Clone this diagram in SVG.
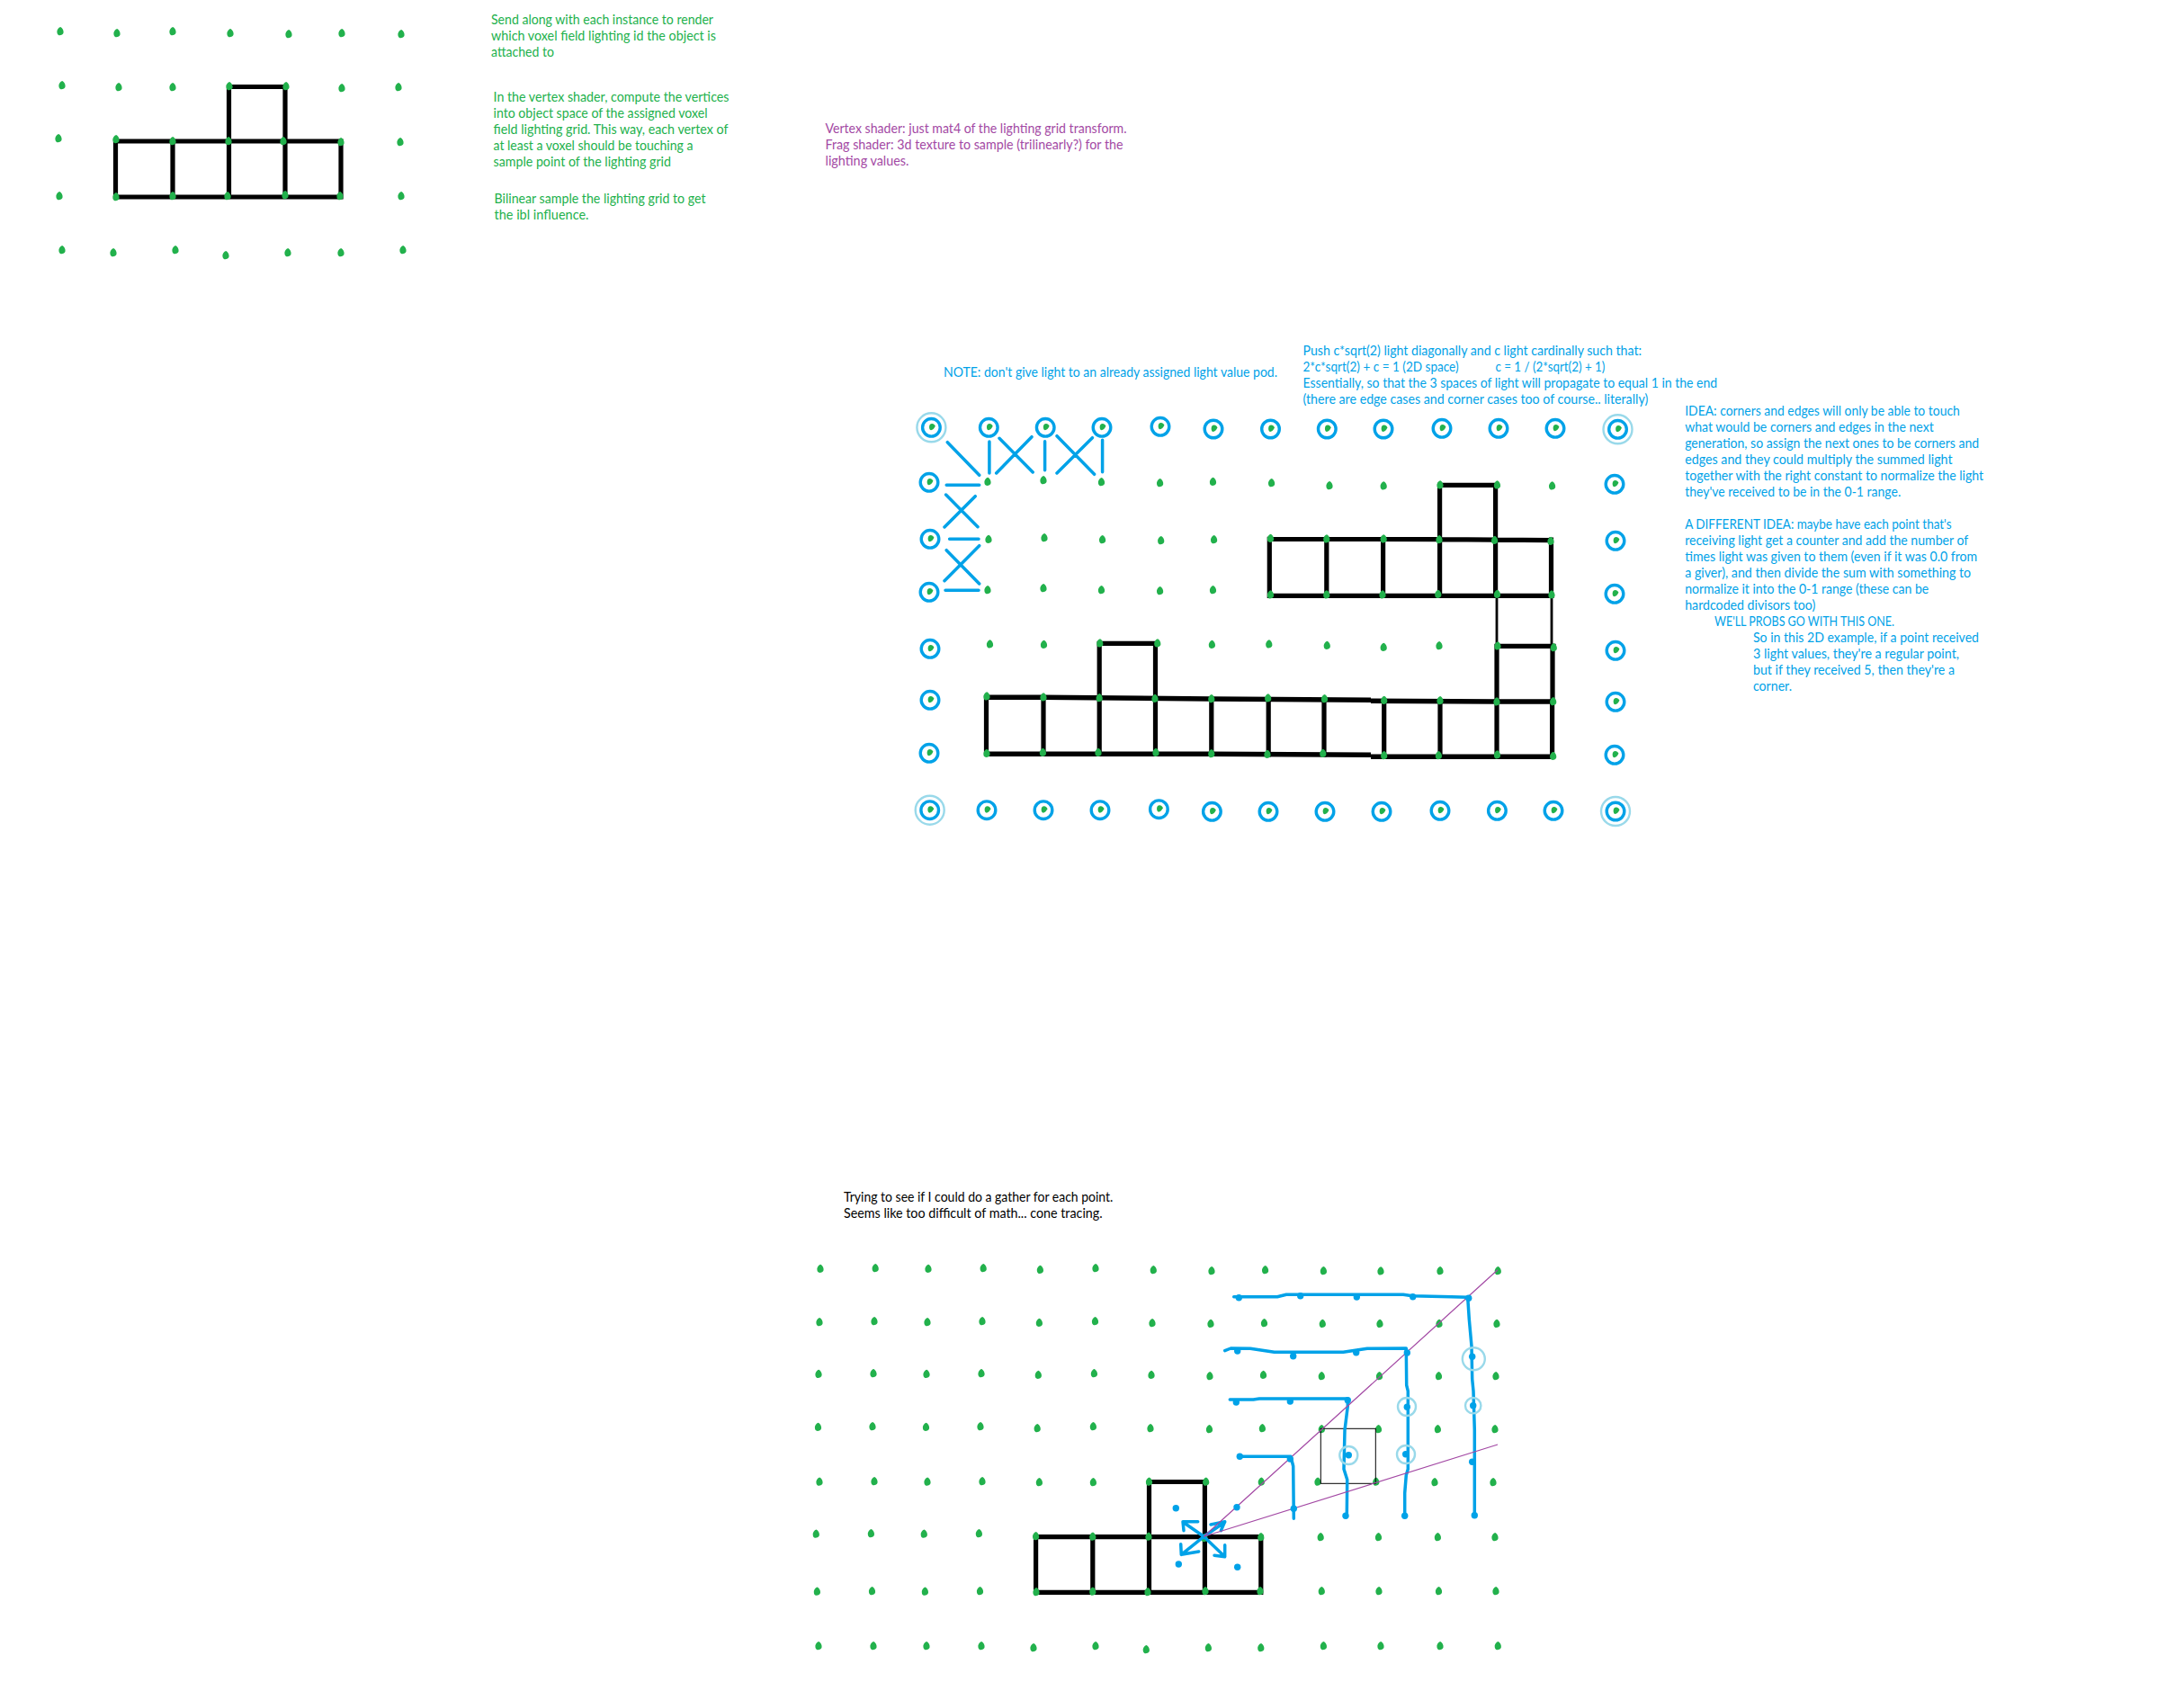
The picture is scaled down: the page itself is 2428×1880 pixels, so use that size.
<svg xmlns="http://www.w3.org/2000/svg" xmlns:xlink="http://www.w3.org/1999/xlink" width="2428" height="1880" viewBox="0 0 2428 1880">
<style>
text{font-family:Lato,"Open Sans","Liberation Sans",sans-serif;font-size:14.67px}
.gt{fill:#22b14c}.bt{fill:#00a2e8}.pt{fill:#a349a4}.kt{fill:#000}
.k{fill:none;stroke:#000;stroke-width:5.2;stroke-linecap:square}
.kh{fill:none;stroke:#000;stroke-width:5.4;stroke-linecap:butt}
.kn{fill:none;stroke:#000;stroke-width:2.8}
.bl{fill:none;stroke:#00a2e8;stroke-width:3.5;stroke-linejoin:round;stroke-linecap:round}
.lc{fill:none;stroke:#99d9ea;stroke-width:2.4}
.pl{fill:none;stroke:#a349a4;stroke-width:1.2}
.gd{fill:#22b14c}.bd{fill:#00a2e8}
</style>
<defs>
<path id="d" class="gd" d="M-3.6 .3C-3.6-2.2-1.2-5 .3-5C2.2-3.9 3.9-1.6 3.6 1.2C3.4 3.7-.6 4.8-2 3.9C-3.1 3.2-3.6 1.9-3.6 .3Z"/>
<circle id="b" class="bd" r="3.7"/>
<g id="p"><circle r="9.8" fill="none" stroke="#00a2e8" stroke-width="3.4"/><path class="gd" transform="translate(.8 -.6) scale(1.05)" d="M-3 0C-3-2-2-3.6 0-3.6C1.5-3.6 3.4-2 3.4-.8C2.4 1.8 .5 3.4-1 3.4C-2.4 3.4-3 1.7-3 0Z"/></g>
<circle id="o" class="lc" r="16"/>
</defs>
<rect width="2428" height="1880" fill="#fff"/>

<g id="notes-green" class="gt">
<text class="gt" x="546" y="27" textLength="247" lengthAdjust="spacingAndGlyphs">Send along with each instance to render</text>
<text class="gt" x="546" y="45" textLength="250" lengthAdjust="spacingAndGlyphs">which voxel field lighting id the object is</text>
<text class="gt" x="546" y="63" textLength="70" lengthAdjust="spacingAndGlyphs">attached to</text>
<text class="gt" x="548.5" y="113" textLength="262" lengthAdjust="spacingAndGlyphs">In the vertex shader, compute the vertices</text>
<text class="gt" x="548.5" y="131" textLength="238" lengthAdjust="spacingAndGlyphs">into object space of the assigned voxel</text>
<text class="gt" x="548.5" y="149" textLength="261" lengthAdjust="spacingAndGlyphs">field lighting grid. This way, each vertex of</text>
<text class="gt" x="548.5" y="167" textLength="222" lengthAdjust="spacingAndGlyphs">at least a voxel should be touching a</text>
<text class="gt" x="548.5" y="185" textLength="197.5" lengthAdjust="spacingAndGlyphs">sample point of the lighting grid</text>
<text class="gt" x="549.5" y="226" textLength="235" lengthAdjust="spacingAndGlyphs">Bilinear sample the lighting grid to get</text>
<text class="gt" x="549.5" y="244" textLength="105" lengthAdjust="spacingAndGlyphs">the ibl influence.</text>
</g>

<g id="notes-purple">
<text class="pt" x="917.5" y="148" textLength="335" lengthAdjust="spacingAndGlyphs">Vertex shader: just mat4 of the lighting grid transform.</text>
<text class="pt" x="917.5" y="166" textLength="331" lengthAdjust="spacingAndGlyphs">Frag shader: 3d texture to sample (trilinearly?) for the</text>
<text class="pt" x="917.5" y="184" textLength="93" lengthAdjust="spacingAndGlyphs">lighting values.</text>
</g>

<g id="notes-blue">
<text class="bt" x="1049" y="419" textLength="371" lengthAdjust="spacingAndGlyphs">NOTE: don't give light to an already assigned light value pod.</text>
<text class="bt" x="1448.5" y="395" textLength="376.5" lengthAdjust="spacingAndGlyphs">Push c*sqrt(2) light diagonally and c light cardinally such that:</text>
<text class="bt" x="1448.5" y="413" textLength="173" lengthAdjust="spacingAndGlyphs">2*c*sqrt(2) + c = 1 (2D space)</text>
<text class="bt" x="1662.4" y="413" textLength="122" lengthAdjust="spacingAndGlyphs">c = 1 / (2*sqrt(2) + 1)</text>
<text class="bt" x="1448.5" y="431" textLength="460.7" lengthAdjust="spacingAndGlyphs">Essentially, so that the 3 spaces of light will propagate to equal 1 in the end</text>
<text class="bt" x="1448.5" y="449" textLength="383.7" lengthAdjust="spacingAndGlyphs">(there are edge cases and corner cases too of course.. literally)</text>
<text class="bt" x="1873.2" y="461.7" textLength="305.6" lengthAdjust="spacingAndGlyphs">IDEA: corners and edges will only be able to touch</text>
<text class="bt" x="1873.2" y="479.7" textLength="276.5" lengthAdjust="spacingAndGlyphs">what would be corners and edges in the next</text>
<text class="bt" x="1873.2" y="497.7" textLength="327" lengthAdjust="spacingAndGlyphs">generation, so assign the next ones to be corners and</text>
<text class="bt" x="1873.2" y="515.7" textLength="297.4" lengthAdjust="spacingAndGlyphs">edges and they could multiply the summed light</text>
<text class="bt" x="1873.2" y="533.7" textLength="332" lengthAdjust="spacingAndGlyphs">together with the right constant to normalize the light</text>
<text class="bt" x="1873.2" y="551.7" textLength="240" lengthAdjust="spacingAndGlyphs">they've received to be in the 0-1 range.</text>
<text class="bt" x="1873.2" y="587.7" textLength="296.4" lengthAdjust="spacingAndGlyphs">A DIFFERENT IDEA: maybe have each point that's</text>
<text class="bt" x="1873.2" y="605.7" textLength="315" lengthAdjust="spacingAndGlyphs">receiving light get a counter and add the number of</text>
<text class="bt" x="1873.2" y="623.7" textLength="325" lengthAdjust="spacingAndGlyphs">times light was given to them (even if it was 0.0 from</text>
<text class="bt" x="1873.2" y="641.7" textLength="318" lengthAdjust="spacingAndGlyphs">a giver), and then divide the sum with something to</text>
<text class="bt" x="1873.2" y="659.7" textLength="271" lengthAdjust="spacingAndGlyphs">normalize it into the 0-1 range (these can be</text>
<text class="bt" x="1873.2" y="677.7" textLength="145" lengthAdjust="spacingAndGlyphs">hardcoded divisors too)</text>
<text class="bt" x="1906" y="695.7" textLength="200" lengthAdjust="spacingAndGlyphs">WE'LL PROBS GO WITH THIS ONE.</text>
<text class="bt" x="1949" y="713.7" textLength="251" lengthAdjust="spacingAndGlyphs">So in this 2D example, if a point received</text>
<text class="bt" x="1949" y="731.7" textLength="229" lengthAdjust="spacingAndGlyphs">3 light values, they're a regular point,</text>
<text class="bt" x="1949" y="749.7" textLength="224" lengthAdjust="spacingAndGlyphs">but if they received 5, then they're a</text>
<text class="bt" x="1949" y="767.7" textLength="43" lengthAdjust="spacingAndGlyphs">corner.</text>
</g>

<g id="notes-black">
<text class="kt" x="938" y="1335.5" textLength="299.4" lengthAdjust="spacingAndGlyphs">Trying to see if I could do a gather for each point.</text>
<text class="kt" x="938" y="1353.5" textLength="287.6" lengthAdjust="spacingAndGlyphs">Seems like too difficult of math... cone tracing.</text>
</g>

<g id="shape-1">
<path class="k" d="M254.5 96.5H317.5M129 157H379M129 219H379M128.5 157V219M192 157V219M254.5 96.5V219M317 96.5V219M379 157V219"/>
</g>
<g id="grid-1">
<use href="#d" x="67" y="35"/><use href="#d" x="130" y="37"/><use href="#d" x="192" y="35"/><use href="#d" x="256" y="37"/><use href="#d" x="321" y="38"/><use href="#d" x="380" y="37"/><use href="#d" x="446" y="38"/>
<use href="#d" x="69" y="95"/><use href="#d" x="132" y="97"/><use href="#d" x="192" y="97"/><use href="#d" x="255" y="96"/><use href="#d" x="318" y="96"/><use href="#d" x="380" y="98"/><use href="#d" x="443" y="97"/>
<use href="#d" x="65" y="154"/><use href="#d" x="129" y="155"/><use href="#d" x="192" y="157"/><use href="#d" x="254" y="157"/><use href="#d" x="315" y="157"/><use href="#d" x="379" y="158"/><use href="#d" x="445" y="158"/>
<use href="#d" x="66" y="218"/><use href="#d" x="129" y="219"/><use href="#d" x="192" y="218"/><use href="#d" x="253" y="218"/><use href="#d" x="317" y="217"/><use href="#d" x="378" y="218"/><use href="#d" x="446" y="218"/>
<use href="#d" x="69" y="278"/><use href="#d" x="126" y="281"/><use href="#d" x="195" y="278"/><use href="#d" x="251" y="284"/><use href="#d" x="320" y="281"/><use href="#d" x="379" y="281"/><use href="#d" x="448" y="278"/>
</g>

<g id="shape-2">
<path class="k" d="M1600.6 539.3H1662.5M1412.5 599.3L1600 599.6L1724 600.7M1412 662.3H1725M1411.3 599.3V662.3M1474.8 599.3V662.3M1537.6 599.3V662.3M1600.6 539.3V662.3M1662.6 539.3V662.3M1724.5 600V662.3"/>
<path class="kn" d="M1664 662.3V718.3M1725 662.3V718.3"/>
<path class="k" d="M1664 718.3H1727M1664 718.3V780M1726 718.3V780M1222.8 715.3H1284.5M1222.2 715.3V776M1284.5 715.3V776"/>
<path class="kh" d="M1096.5 775.3H1160L1346 777L1524 778.3M1524 779.3L1664 780H1726M1096.5 838.3H1346L1524 839.3M1524 841.3H1726"/>
<path class="k" d="M1096.5 776V838M1160 776V838M1222.2 776V838M1284.5 776V838M1346.8 777V838M1410.2 777V839M1472 778V839M1538.7 779V841M1601 780V841M1664 780V841M1725.6 780V841"/>
</g>
<g id="grid-2">
<use href="#d" x="1098" y="535.7"/><use href="#d" x="1160" y="534"/><use href="#d" x="1224.5" y="536"/><use href="#d" x="1289.6" y="537"/><use href="#d" x="1348.5" y="535.7"/><use href="#d" x="1413.6" y="537"/><use href="#d" x="1478" y="540"/><use href="#d" x="1538.2" y="540.3"/><use href="#d" x="1601" y="539.3"/><use href="#d" x="1664.5" y="539.3"/><use href="#d" x="1725.6" y="540.3"/>
<use href="#d" x="1099" y="599.7"/><use href="#d" x="1161" y="598"/><use href="#d" x="1225.6" y="600"/><use href="#d" x="1290.7" y="601"/><use href="#d" x="1349.6" y="600"/><use href="#d" x="1412.5" y="598.7"/><use href="#d" x="1474.8" y="599.3"/><use href="#d" x="1538.2" y="599.3"/><use href="#d" x="1600" y="600"/><use href="#d" x="1661.6" y="600.7"/><use href="#d" x="1724" y="601.7"/>
<use href="#d" x="1098" y="656"/><use href="#d" x="1160" y="654"/><use href="#d" x="1224.5" y="656"/><use href="#d" x="1289.6" y="657"/><use href="#d" x="1348.5" y="656"/><use href="#d" x="1412.5" y="661.3"/><use href="#d" x="1474.8" y="661.3"/><use href="#d" x="1537" y="661.3"/><use href="#d" x="1598.8" y="660.7"/><use href="#d" x="1664.5" y="660.7"/><use href="#d" x="1725" y="661.3"/>
<use href="#d" x="1100.5" y="716.3"/><use href="#d" x="1160.5" y="716.7"/><use href="#d" x="1222.8" y="715.3"/><use href="#d" x="1286.8" y="715.3"/><use href="#d" x="1347.4" y="716.7"/><use href="#d" x="1410.8" y="716.3"/><use href="#d" x="1475.3" y="717.7"/><use href="#d" x="1538.2" y="719.7"/><use href="#d" x="1600" y="718"/><use href="#d" x="1665" y="718.3"/><use href="#d" x="1727.3" y="720"/>
<use href="#d" x="1097" y="774.3"/><use href="#d" x="1160" y="775.3"/><use href="#d" x="1222.2" y="776"/><use href="#d" x="1284" y="776.7"/><use href="#d" x="1346.8" y="777"/><use href="#d" x="1409.7" y="776.3"/><use href="#d" x="1472.5" y="777"/><use href="#d" x="1538.7" y="778.7"/><use href="#d" x="1601" y="779"/><use href="#d" x="1664" y="780.3"/><use href="#d" x="1726.7" y="780"/>
<use href="#d" x="1097" y="837.7"/><use href="#d" x="1159.4" y="836.7"/><use href="#d" x="1221" y="836.7"/><use href="#d" x="1285" y="836.7"/><use href="#d" x="1346.8" y="838"/><use href="#d" x="1409" y="838.7"/><use href="#d" x="1470.8" y="837.7"/><use href="#d" x="1538.7" y="840"/><use href="#d" x="1599.4" y="840"/><use href="#d" x="1664.5" y="839.3"/><use href="#d" x="1726.7" y="840.7"/>
</g>
<g id="pods">
<use href="#p" x="1035.4" y="475.3"/><use href="#p" x="1099.3" y="475.3"/><use href="#p" x="1162.2" y="475.3"/><use href="#p" x="1225" y="475.3"/><use href="#p" x="1290" y="474.3"/><use href="#p" x="1349" y="477"/><use href="#p" x="1412.5" y="477"/><use href="#p" x="1475.3" y="477"/><use href="#p" x="1538" y="477"/><use href="#p" x="1603" y="476.3"/><use href="#p" x="1666" y="476.3"/><use href="#p" x="1729" y="476.3"/><use href="#p" x="1798.5" y="477.3"/>
<use href="#p" x="1033" y="536.3"/><use href="#p" x="1034" y="599.3"/><use href="#p" x="1033" y="658.3"/><use href="#p" x="1034" y="721.3"/><use href="#p" x="1034" y="778.3"/><use href="#p" x="1033" y="837.3"/>
<use href="#p" x="1795" y="538.3"/><use href="#p" x="1796" y="601.3"/><use href="#p" x="1795" y="660.3"/><use href="#p" x="1796" y="723.3"/><use href="#p" x="1796" y="780.3"/><use href="#p" x="1795" y="839.3"/>
<use href="#p" x="1033.7" y="900.7"/><use href="#p" x="1097" y="900.7"/><use href="#p" x="1160" y="900.7"/><use href="#p" x="1223" y="900.7"/><use href="#p" x="1288.4" y="899.7"/><use href="#p" x="1347.4" y="902.3"/><use href="#p" x="1410" y="902.3"/><use href="#p" x="1473" y="902.3"/><use href="#p" x="1536" y="902.3"/><use href="#p" x="1601" y="901.3"/><use href="#p" x="1664.4" y="901.3"/><use href="#p" x="1727" y="901.3"/><use href="#p" x="1796" y="902"/>
<use href="#o" x="1035.4" y="475.3"/><use href="#o" x="1798.5" y="477.3"/><use href="#o" x="1033.7" y="900.7"/><use href="#o" x="1796" y="902"/>
</g>
<g id="connectors-pods">
<path class="bl" d="M1053.3 491.7L1088.7 528.3M1099.9 491V526M1111 487.3L1148.2 525M1147 485.7L1107.7 526M1161.6 490.7V522.7M1175 484.7L1216.6 527.3M1214.4 486.7L1175 526M1225.6 489.3V524.7M1052.2 539.3H1088.7M1051.6 550L1087 585.7M1084.2 551.7L1050 586M1055.6 599.3H1088M1088.7 606.7L1050 645.7M1052.2 611.7L1088.7 649M1051 656.3H1088"/>
</g>

<g id="grid-3">
<use href="#d" x="912" y="1410.7"/><use href="#d" x="973.2" y="1410"/><use href="#d" x="1032" y="1410.7"/><use href="#d" x="1093.2" y="1410"/><use href="#d" x="1156.4" y="1411.8"/><use href="#d" x="1218" y="1410"/><use href="#d" x="1282.3" y="1412"/><use href="#d" x="1347" y="1413"/><use href="#d" x="1406.6" y="1412"/><use href="#d" x="1471.4" y="1413"/><use href="#d" x="1535" y="1413.3"/><use href="#d" x="1601" y="1413"/><use href="#d" x="1665.3" y="1413"/>
<use href="#d" x="911" y="1470"/><use href="#d" x="972" y="1469"/><use href="#d" x="1031" y="1470"/><use href="#d" x="1092" y="1469"/><use href="#d" x="1155.4" y="1470.7"/><use href="#d" x="1217.5" y="1469"/><use href="#d" x="1281" y="1471"/><use href="#d" x="1346" y="1471.8"/><use href="#d" x="1405.5" y="1471"/><use href="#d" x="1470.3" y="1471.8"/><use href="#d" x="1534" y="1471.8"/><use href="#d" x="1600" y="1471.8"/><use href="#d" x="1664" y="1471.8"/>
<use href="#d" x="910" y="1527.8"/><use href="#d" x="971" y="1527"/><use href="#d" x="1030" y="1527.8"/><use href="#d" x="1091" y="1527"/><use href="#d" x="1154.3" y="1528.7"/><use href="#d" x="1216.4" y="1527"/><use href="#d" x="1280" y="1528.7"/><use href="#d" x="1345" y="1530"/><use href="#d" x="1404.5" y="1528.7"/><use href="#d" x="1469.3" y="1530"/><use href="#d" x="1533.5" y="1530"/><use href="#d" x="1599.5" y="1530"/><use href="#d" x="1663" y="1530"/>
<use href="#d" x="909.5" y="1586.7"/><use href="#d" x="970" y="1586"/><use href="#d" x="1029.5" y="1586.7"/><use href="#d" x="1090" y="1586"/><use href="#d" x="1153.2" y="1588"/><use href="#d" x="1215.4" y="1586"/><use href="#d" x="1279" y="1588"/><use href="#d" x="1344.5" y="1589"/><use href="#d" x="1403.4" y="1588"/><use href="#d" x="1469.3" y="1589"/><use href="#d" x="1532.5" y="1589"/><use href="#d" x="1598.4" y="1589"/><use href="#d" x="1662" y="1589"/>
<use href="#d" x="911" y="1647.5"/><use href="#d" x="972" y="1647"/><use href="#d" x="1031" y="1647.5"/><use href="#d" x="1092" y="1647"/><use href="#d" x="1155.4" y="1648"/><use href="#d" x="1215.4" y="1648"/><use href="#d" x="1402.3" y="1647.5"/><use href="#d" x="1465" y="1647.5"/><use href="#d" x="1529.8" y="1647.5"/><use href="#d" x="1595" y="1648"/><use href="#d" x="1660" y="1648"/>
<use href="#d" x="907.3" y="1705.6"/><use href="#d" x="968.4" y="1705"/><use href="#d" x="1027.3" y="1705.6"/><use href="#d" x="1088.4" y="1705"/><use href="#d" x="1468.2" y="1709"/><use href="#d" x="1532.5" y="1709"/><use href="#d" x="1598.4" y="1709"/><use href="#d" x="1662" y="1709"/>
<use href="#d" x="908.4" y="1769.6"/><use href="#d" x="969.5" y="1769"/><use href="#d" x="1028.4" y="1769.6"/><use href="#d" x="1089.5" y="1769"/><use href="#d" x="1469.3" y="1769"/><use href="#d" x="1533" y="1769"/><use href="#d" x="1599.5" y="1769"/><use href="#d" x="1663" y="1769"/>
<use href="#d" x="910" y="1830"/><use href="#d" x="971" y="1830"/><use href="#d" x="1030" y="1830"/><use href="#d" x="1091" y="1830"/><use href="#d" x="1149" y="1832"/><use href="#d" x="1218" y="1830"/><use href="#d" x="1274.3" y="1834"/><use href="#d" x="1343.4" y="1832"/><use href="#d" x="1401.8" y="1832"/><use href="#d" x="1471.4" y="1830"/><use href="#d" x="1535" y="1830"/><use href="#d" x="1601" y="1830"/><use href="#d" x="1665.3" y="1830"/>
</g>
<g id="shape-3">
<path class="k" d="M1277.5 1647.5H1339.5M1151.6 1708.7H1401.8M1151.6 1770.3H1401.8M1151.6 1708.7V1770.3M1214.8 1708.7V1770.3M1277.5 1647.5V1770.3M1339.4 1647.5V1770.3M1401.8 1708.7V1770.3"/>
</g>
<g id="grid-3-box-points">
<use href="#d" x="1151.6" y="1708"/><use href="#d" x="1214.8" y="1708.5"/><use href="#d" x="1277" y="1708.5"/><use href="#d" x="1339" y="1710"/><use href="#d" x="1401.8" y="1709"/>
<use href="#d" x="1152" y="1770"/><use href="#d" x="1214.8" y="1769.5"/><use href="#d" x="1276" y="1770"/><use href="#d" x="1340" y="1769"/><use href="#d" x="1401" y="1769"/>
<use href="#d" x="1277.5" y="1647.5"/><use href="#d" x="1340.7" y="1647.5"/>
</g>
<g id="cell">
<rect x="1468.3" y="1588.3" width="61" height="61" fill="none" stroke="#000" stroke-width="1"/>
</g>
<g id="connectors-gather">
<path class="bl" d="M1371.7 1441.7H1420L1430 1439.3H1560L1570 1440.7L1613.3 1441.7L1631.7 1442.3L1633.3 1466.7L1636 1496.7L1636.7 1533.3L1638 1546.7L1639.3 1590V1685"/>
<path class="bl" d="M1361.7 1501.7L1368.3 1499L1390 1499.3L1416.7 1503.3H1493.3L1520 1499.3L1563.3 1499L1563.7 1540L1565.3 1546.7V1633.3L1563.3 1640L1561.7 1660V1686"/>
<path class="bl" d="M1367.3 1556H1393.3L1400 1555H1498.3V1563.3L1495 1590L1494 1633.3L1497.7 1645L1497.3 1683.3L1496 1686"/>
<path class="bl" d="M1378.3 1619.3H1435L1437.7 1630L1438.3 1688.3"/>
<path class="bl" d="M1338.3 1708.3L1316 1692.7M1331.7 1691.7H1315L1316 1701.7M1338.3 1708.3L1361.7 1692.3M1346 1695L1361.7 1691.7L1357.3 1701.7M1338.3 1708.3L1313.3 1728.3M1312.7 1716.7L1313.3 1728.3L1332.7 1725M1338.3 1708.3L1361.7 1730.7M1361.7 1717.7V1730.7L1350 1729.3"/>
<path class="pl" d="M1338.3 1708.3L1665 1411.7M1338.3 1708.3L1665 1606"/>
</g>
<g id="gather-points">
<use href="#b" x="1377.3" y="1442.7"/><use href="#b" x="1445.7" y="1440.7"/><use href="#b" x="1508.3" y="1442"/><use href="#b" x="1570.7" y="1441.7"/><use href="#b" x="1632.7" y="1443.3"/>
<use href="#b" x="1375.7" y="1502"/><use href="#b" x="1437.7" y="1507.7"/><use href="#b" x="1507.7" y="1503.7"/><use href="#b" x="1564.3" y="1504"/>
<use href="#b" x="1374.3" y="1559"/><use href="#b" x="1434.3" y="1558"/><use href="#b" x="1498.3" y="1556.7"/>
<use href="#b" x="1378.3" y="1619.3"/><use href="#b" x="1434.3" y="1622"/><use href="#b" x="1438.3" y="1677.3"/>
<use href="#b" x="1496" y="1685.3"/><use href="#b" x="1561.7" y="1685.3"/><use href="#b" x="1639.3" y="1684.7"/>
<use href="#b" x="1636.7" y="1508.3"/><use href="#b" x="1637.7" y="1562.7"/><use href="#b" x="1564.3" y="1564.3"/><use href="#b" x="1499.3" y="1617.7"/><use href="#b" x="1562.7" y="1616.7"/><use href="#b" x="1636.7" y="1625.3"/>
<use href="#b" x="1375" y="1675.7"/><use href="#b" x="1307.3" y="1676.7"/><use href="#b" x="1310.3" y="1739"/><use href="#b" x="1375.7" y="1742.3"/>
<circle class="lc" cx="1638.3" cy="1510.7" r="12.5"/><circle class="lc" cx="1637.7" cy="1562.7" r="8.7"/><circle class="lc" cx="1564" cy="1564" r="10"/><circle class="lc" cx="1499.3" cy="1618" r="10"/><circle class="lc" cx="1563" cy="1617" r="10"/>
</g>
</svg>
